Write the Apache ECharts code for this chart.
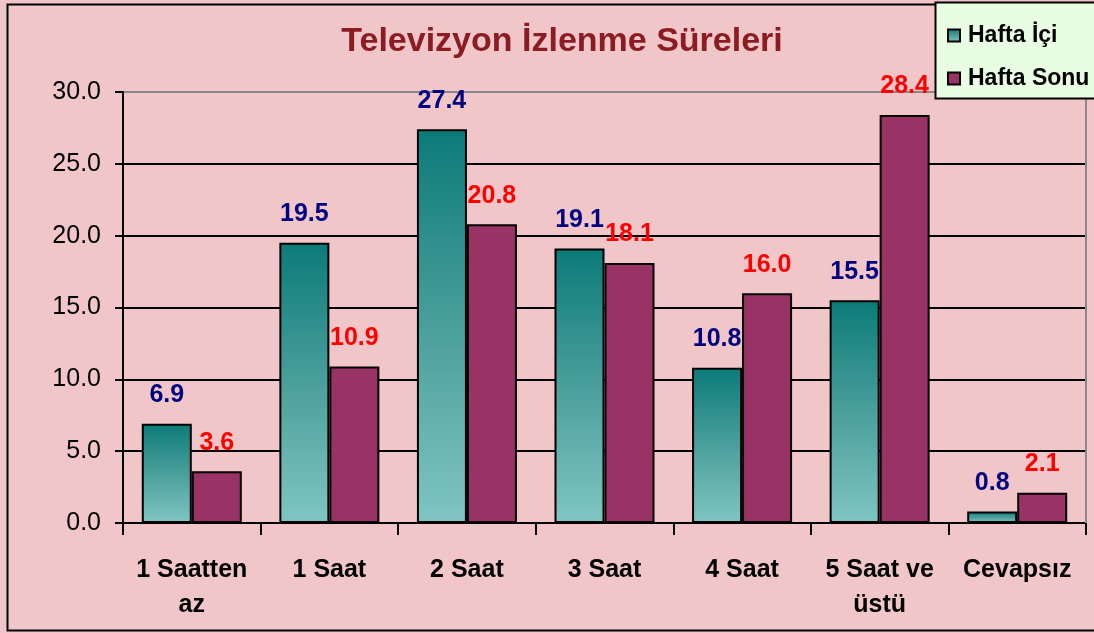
<!DOCTYPE html>
<html>
<head>
<meta charset="utf-8">
<script src="https://cdn.jsdelivr.net/npm/echarts@6/dist/echarts.min.js"></script>
<style>
  html, body { margin: 0; padding: 0; background: #f0c6c8; }
  #chart { width: 1094px; height: 633px; }
</style>
</head>
<body>
<div id="chart"></div>
<script>
// data
var categories = ['1 Saatten\naz', '1 Saat', '2 Saat', '3 Saat', '4 Saat', '5 Saat ve\nüstü', 'Cevapsız']
var haftaIci = [6.9, 19.5, 27.4, 19.1, 10.8, 15.5, 0.8]
var haftaSonu = [3.6, 10.9, 20.8, 18.1, 16.0, 28.4, 2.1]
var seriesNames = ['Hafta İçi', 'Hafta Sonu']

var font = 'Liberation Sans, Arial, sans-serif'
var chart = echarts.init(document.getElementById('chart'))

var teal = new echarts.graphic.LinearGradient(0, 0, 0, 1, [
  { offset: 0, color: '#0b7b78' },
  { offset: 0.5, color: '#4a9f9c' },
  { offset: 1, color: '#80c5c1' }
])

chart.setOption({
  backgroundColor: '#f0c6c8',
  animation: false,
  title: {
    text: 'Televizyon İzlenme Süreleri',
    left: 557,
    textAlign: 'center',
    top: 20,
    textStyle: {
      fontFamily: font,
      fontSize: 34,
      fontWeight: 'bold',
      color: '#8b1c22'
    }
  },
  graphic: [
    {
      type: 'rect',
      shape: { x: 7.5, y: 4.5, width: 1100, height: 626 },
      style: { fill: 'none', stroke: '#000', lineWidth: 2 },
      z: -1
    },
    {
      type: 'line',
      shape: { x1: 1086, y1: 92, x2: 1086, y2: 523 },
      style: { stroke: '#888', lineWidth: 2 },
      z: 1
    },
    {
      type: 'rect',
      shape: { x: 935.5, y: 2.5, width: 160, height: 96 },
      style: { fill: '#e8fde2', stroke: '#000', lineWidth: 2 },
      z: 5
    }
  ],
  legend: {
    data: seriesNames,
    orient: 'vertical',
    left: 942,
    top: 19,
    itemGap: 20,
    itemWidth: 12,
    itemHeight: 12,
    icon: 'rect',
    z: 10,
    textStyle: {
      fontFamily: font,
      fontSize: 23,
      fontWeight: 'bold',
      color: '#000',
      padding: [0, 0, 0, 3]
    }
  },
  grid: {
    left: 123,
    right: 8,
    top: 92,
    bottom: 110
  },
  xAxis: {
    type: 'category',
    data: categories,
    axisLine: { lineStyle: { color: '#000', width: 2 } },
    axisTick: { show: true, interval: 0, length: 12, lineStyle: { color: '#000', width: 2 } },
    axisLabel: {
      interval: 0,
      margin: 30,
      fontFamily: font,
      fontSize: 25,
      fontWeight: 'bold',
      color: '#000',
      lineHeight: 35
    }
  },
  yAxis: {
    type: 'value',
    min: 0,
    max: 30,
    interval: 5,
    axisLine: { show: true, lineStyle: { color: '#000', width: 2 } },
    axisTick: { show: true, length: 8, lineStyle: { color: '#000', width: 2 } },
    axisLabel: {
      margin: 22,
      fontFamily: font,
      fontSize: 25,
      color: '#000',
      formatter: function (v) { return v.toFixed(1) }
    },
    splitLine: {
      lineStyle: {
        color: ['#000', '#000', '#000', '#000', '#000', '#000', '#888'],
        width: 2
      }
    }
  },
  series: [
    {
      name: seriesNames[0],
      type: 'bar',
      data: haftaIci,
      barWidth: 50,
      barGap: '0%',
      itemStyle: { color: teal, borderColor: '#000', borderWidth: 2 },
      label: {
        show: true,
        position: 'top',
        distance: 16,
        fontFamily: font,
        fontSize: 25,
        fontWeight: 'bold',
        color: '#000080',
        formatter: function (p) { return p.value.toFixed(1) }
      }
    },
    {
      name: seriesNames[1],
      type: 'bar',
      data: haftaSonu,
      barWidth: 50,
      itemStyle: { color: '#993366', borderColor: '#000', borderWidth: 2 },
      label: {
        show: true,
        position: 'top',
        distance: 16,
        fontFamily: font,
        fontSize: 25,
        fontWeight: 'bold',
        color: '#ff0000',
        formatter: function (p) { return p.value.toFixed(1) }
      }
    }
  ]
})
</script>
</body>
</html>
